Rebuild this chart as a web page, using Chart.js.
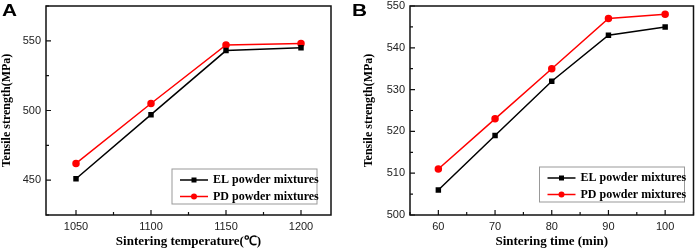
<!DOCTYPE html>
<html>
<head>
<meta charset="utf-8">
<script src="https://cdn.jsdelivr.net/npm/chart.js@4/dist/chart.umd.min.js"></script>
<style>
  html, body { margin: 0; padding: 0; background: #fff; }
  #wrap { position: relative; width: 699px; height: 251px; }
  #boxA { position: absolute; left: 0; top: 0; width: 350px; height: 251px; }
  #boxB { position: absolute; left: 350px; top: 0; width: 349px; height: 251px; }
</style>
</head>
<body>
<div id="wrap">
  <div id="boxA"><canvas id="chartA" width="350" height="251"></canvas></div>
  <div id="boxB"><canvas id="chartB" width="349" height="251"></canvas></div>
</div>
<script>
// panel A - sintering temperature
const tempA = [1050, 1100, 1150, 1200];
const elA = [451, 497, 543, 545];
const pdA = [462, 505, 547, 548];
const xTicksA = [1050, 1100, 1150, 1200];
const yTicksA = [450, 500, 550];

// panel B - sintering time
const timeB = [60, 70, 80, 90, 100];
const elB = [506, 519, 532, 543, 545];
const pdB = [511, 523, 535, 547, 548];
const xTicksB = [60, 70, 80, 90, 100];
const yTicksB = [500, 510, 520, 530, 540, 550];

const seriesNames = ["EL powder mixtures", "PD powder mixtures"];

const tickFont = { family: "'Liberation Sans', Arial", size: 11 };
const titleFont = { family: "'Liberation Serif', 'Times New Roman'", size: 12, weight: "bold" };

function pts(xs, ys) {
    return xs.map((x, i) => ({ x: x, y: ys[i] }));
}

// frame, inward ticks, panel letter and legend box
const framePlugin = {
    id: "frame",
    afterDraw(chart, args, opts) {
        const ctx = chart.ctx;
        const a = chart.chartArea;
        ctx.save();
        ctx.strokeStyle = "#111";
        ctx.lineWidth = 1.5;
        ctx.strokeRect(a.left, a.top, a.right - a.left, a.bottom - a.top);

        ctx.lineWidth = 1.2;
        const xs = chart.scales.x, ys = chart.scales.y;
        const xv = xs.ticks.map(t => t.value);
        const yv = ys.ticks.map(t => t.value);
        const minor = (vals, step, min, max) => {
            const out = [];
            for (let v = vals[0] - step / 2; v >= min; v -= step) out.push(v);
            for (let v = vals[0] + step / 2; v <= max; v += step) out.push(v);
            return out;
        };
        ctx.beginPath();
        xv.forEach(v => { const p = xs.getPixelForValue(v); ctx.moveTo(p, a.bottom); ctx.lineTo(p, a.bottom - 5); });
        minor(xv, xv[1] - xv[0], xs.min, xs.max).forEach(v => { const p = xs.getPixelForValue(v); ctx.moveTo(p, a.bottom); ctx.lineTo(p, a.bottom - 3); });
        yv.forEach(v => { const p = ys.getPixelForValue(v); ctx.moveTo(a.left, p); ctx.lineTo(a.left + 5, p); });
        minor(yv, yv[1] - yv[0], ys.min, ys.max).forEach(v => { const p = ys.getPixelForValue(v); ctx.moveTo(a.left, p); ctx.lineTo(a.left + 3, p); });
        ctx.stroke();

        // panel letter
        ctx.fillStyle = "#000";
        ctx.font = "bold 16px 'Liberation Sans', Arial";
        ctx.textBaseline = "top";
        ctx.save();
        ctx.translate(opts.letterX, 4);
        ctx.scale(1.3, 1);
        ctx.fillText(opts.letter, 0, 0);
        ctx.restore();

        // legend
        const w = 145, h = 35;
        const bx = a.right - opts.legRight - w;
        const by = a.bottom - opts.legBottom - h;
        ctx.fillStyle = "#fff";
        ctx.fillRect(bx, by, w, h);
        ctx.strokeStyle = "#999";
        ctx.lineWidth = 1;
        ctx.strokeRect(bx, by, w, h);
        chart.data.datasets.forEach((ds, i) => {
            const y = by + 11 + i * 16.5;
            const x0 = bx + 8, x1 = bx + 36;
            ctx.strokeStyle = ds.borderColor;
            ctx.lineWidth = 1.5;
            ctx.beginPath();
            ctx.moveTo(x0, y);
            ctx.lineTo(x1, y);
            ctx.stroke();
            ctx.fillStyle = ds.borderColor;
            if (ds.pointStyle === "rect") {
                ctx.fillRect((x0 + x1) / 2 - 2.5, y - 2.5, 5, 5);
            } else {
                ctx.beginPath();
                ctx.arc((x0 + x1) / 2, y, 3, 0, Math.PI * 2);
                ctx.fill();
            }
            ctx.fillStyle = "#000";
            ctx.font = "bold 12px 'Liberation Serif', 'Times New Roman'";
            ctx.textBaseline = "middle";
            ctx.fillText(ds.label, x1 + 5, y);
        });
        ctx.restore();
    }
};

function makeChart(id, xs, el, pd, xTicks, yTicks, xr, yr, xTitle, cfg) {
    return new Chart(document.getElementById(id), {
        type: "line",
        data: {
            datasets: [
                {
                    label: seriesNames[0],
                    data: pts(xs, el),
                    borderColor: "#000",
                    backgroundColor: "#000",
                    pointStyle: "rect",
                    pointRadius: 2.8,
                    borderWidth: 1.5,
                },
                {
                    label: seriesNames[1],
                    data: pts(xs, pd),
                    borderColor: "#ff0000",
                    backgroundColor: "#ff0000",
                    pointStyle: "circle",
                    pointRadius: 3,
                    borderWidth: 1.5,
                },
            ],
        },
        options: {
            responsive: false,
            animation: false,
            layout: { padding: { top: 6, right: cfg.padRight, left: 0, bottom: 0 } },
            plugins: {
                legend: { display: false },
                tooltip: { enabled: false },
                frame: cfg.frame,
            },
            scales: {
                x: {
                    type: "linear",
                    min: xr[0],
                    max: xr[1],
                    afterBuildTicks: s => { s.ticks = xTicks.map(v => ({ value: v })); },
                    afterFit: s => { s.height = 36; s.paddingLeft = 0; s.paddingRight = 0; },
                    grid: { display: false, drawTicks: false },
                    border: { display: false },
                    ticks: { font: tickFont, color: "#222", padding: 5, maxRotation: 0, callback: v => String(v) },
                    title: { display: true, text: xTitle, font: { ...titleFont, size: 13 }, color: "#000", padding: { top: 0, bottom: 2 } },
                },
                y: {
                    min: yr[0],
                    max: yr[1],
                    afterBuildTicks: s => { s.ticks = yTicks.map(v => ({ value: v })); },
                    afterFit: s => { s.width = cfg.yWidth; s.paddingTop = 0; s.paddingBottom = 0; },
                    grid: { display: false, drawTicks: false },
                    border: { display: false },
                    ticks: { font: tickFont, color: "#222", padding: 5, callback: v => String(v) },
                    title: { display: true, text: "Tensile strength(MPa)", font: titleFont, color: "#000", padding: { top: cfg.yTitlePad, bottom: 0 } },
                },
            },
        },
        plugins: [framePlugin],
    });
}

makeChart("chartA", tempA, elA, pdA, xTicksA, yTicksA, [1030, 1220], [425, 575],
    "Sintering temperature(℃)",
    { padRight: 19, yWidth: 46, yTitlePad: 0,
      frame: { letter: "A", letterX: 2, legRight: 14, legBottom: 11 } });

makeChart("chartB", timeB, elB, pdB, xTicksB, yTicksB, [55, 105], [500, 550],
    "Sintering time (min)",
    { padRight: 5, yWidth: 60, yTitlePad: 12,
      frame: { letter: "B", letterX: 2, legRight: 9, legBottom: 13 } });
</script>
</body>
</html>
